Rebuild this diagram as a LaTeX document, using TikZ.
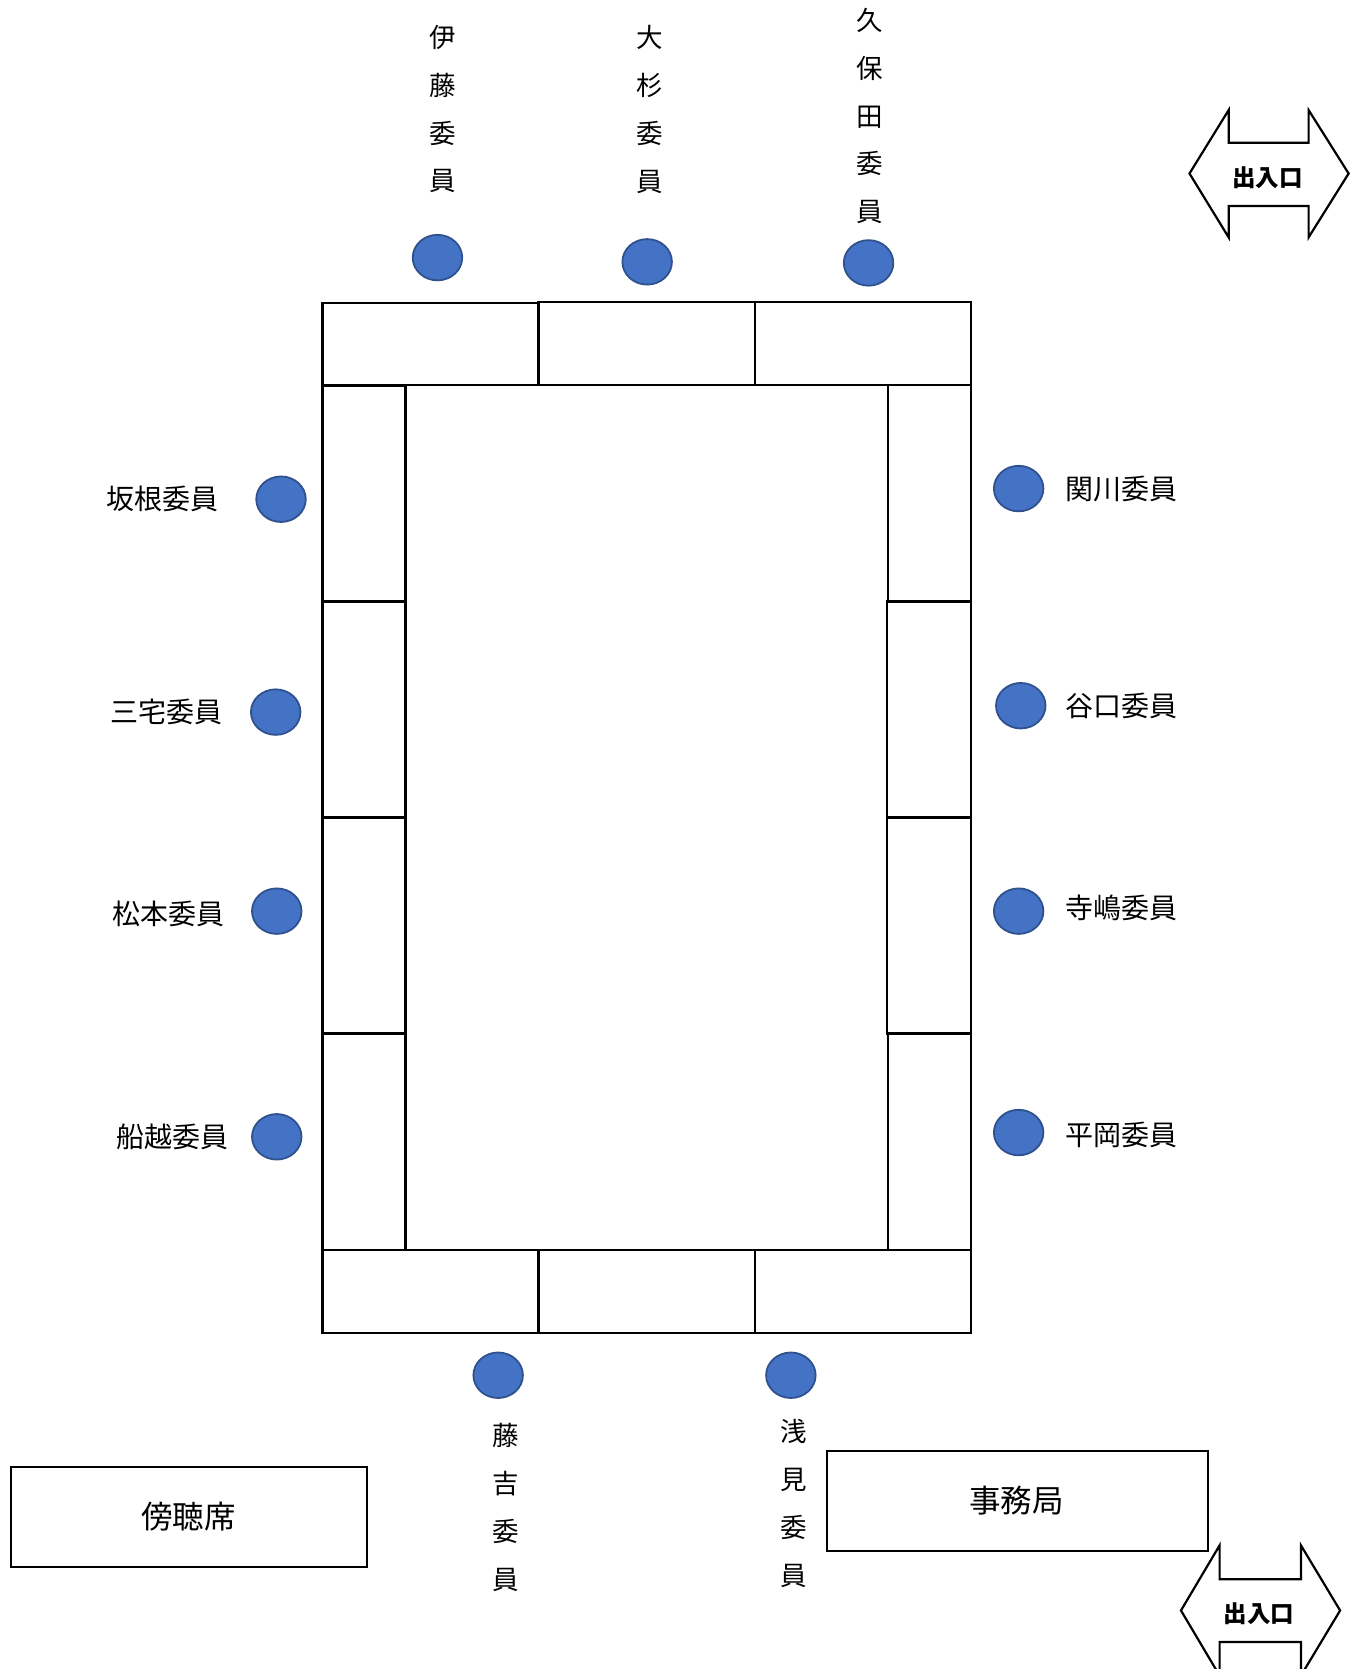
\documentclass[tikz,border=0pt]{standalone}
\usepackage{fontspec}
\setmainfont{Noto Sans CJK JP}
\usetikzlibrary{shapes.geometric}
\definecolor{seatfill}{HTML}{4472C4}
\definecolor{seatline}{HTML}{2F528F}
\tikzset{
  seat/.style={ellipse, fill=seatfill, draw=seatline, line width=1.8pt, minimum width=49.5pt, minimum height=45.5pt, inner sep=0pt},
  tablebox/.style={draw=black, line width=2.2pt},
  hlabel/.style={font=\fontsize{28}{32}\selectfont, inner sep=0pt},
  vlabel/.style={font=\fontsize{26.5}{47.9}\selectfont, align=center, inner sep=0pt},
  roombox/.style={draw=black, line width=2.2pt},
  roomlabel/.style={font=\fontsize{31.5}{34}\selectfont, inner sep=0pt},
  exitarrow/.style={draw=black, line width=2.2pt, fill=white, line join=miter},
  exitlabel/.style={font=\fontsize{23.5}{26}\selectfont\bfseries, inner sep=0pt}
}
\begin{document}
\begin{tikzpicture}[x=1.06421pt, y=-1.06421pt]
\useasboundingbox (0,0) rectangle (1277,1568);
\clip (0,0) rectangle (1277,1568);
% tables: top row
\draw[tablebox] (303,285) rectangle (506,362);
\draw[tablebox] (506,284) rectangle (709,362);
\draw[tablebox] (709,284) rectangle (912,362);
% left column
\draw[tablebox] (303,363) rectangle (381,565);
\draw[tablebox] (303,565) rectangle (381,768);
\draw[tablebox] (303,768) rectangle (381,971);
\draw[tablebox] (303,971) rectangle (381,1174);
% right column
\draw[tablebox] (834,362) rectangle (912,565);
\draw[tablebox] (833,565) rectangle (912,768);
\draw[tablebox] (833,768) rectangle (912,971);
\draw[tablebox] (834,971) rectangle (912,1174);
% bottom row
\draw[tablebox] (303,1174) rectangle (506,1252);
\draw[tablebox] (506,1174) rectangle (709,1252);
\draw[tablebox] (709,1174) rectangle (912,1252);

% seats
\node[seat] (sIto) at (411,242) {};
\node[seat] (sOsugi) at (608,246) {};
\node[seat] (sKubota) at (816,247) {};
\node[seat] (sSakane) at (264,469) {};
\node[seat] (sMiyake) at (259,669) {};
\node[seat] (sMatsumoto) at (260,856) {};
\node[seat] (sFunakoshi) at (260,1068) {};
\node[seat] (sSekikawa) at (957,459) {};
\node[seat] (sTaniguchi) at (959,663) {};
\node[seat] (sTerashima) at (957,856) {};
\node[seat] (sHiraoka) at (957,1064) {};
\node[seat] (sFujiyoshi) at (468,1292) {};
\node[seat] (sAsami) at (743,1292) {};

% vertical labels
\node[vlabel] (lIto) at (416,102.5) {伊\\藤\\委\\員};
\node[vlabel] (lOsugi) at (610,102.5) {大\\杉\\委\\員};
\node[vlabel] (lKubota) at (817,109) {久\\保\\田\\委\\員};
\node[vlabel] (lFujiyoshi) at (475,1416.5) {藤\\吉\\委\\員};
\node[vlabel] (lAsami) at (746,1412.5) {浅\\見\\委\\員};

% horizontal labels
\node[hlabel] (lSakane) at (153,469) {坂根委員};
\node[hlabel] (lMiyake) at (156,669) {三宅委員};
\node[hlabel] (lMatsumoto) at (158,859) {松本委員};
\node[hlabel] (lFunakoshi) at (162,1068) {船越委員};
\node[hlabel] (lSekikawa) at (1054,459) {関川委員};
\node[hlabel] (lTaniguchi) at (1054,663) {谷口委員};
\node[hlabel] (lTerashima) at (1054,853) {寺嶋委員};
\node[hlabel] (lHiraoka) at (1054,1066) {平岡委員};

% rooms
\draw[roombox] (10,1378) rectangle (345,1472);
\node[roomlabel] (gallery) at (177,1425) {傍聴席};
\draw[roombox] (777,1363) rectangle (1135,1457);
\node[roomlabel] (office) at (955,1410) {事務局};

% exits
\draw[exitarrow] (1117.5,163) -- (1154.3,103.4) -- (1154.3,134.1) -- (1229.4,134.1) -- (1229.4,103.4) -- (1267,163) -- (1229.4,223) -- (1229.4,193.6) -- (1154.3,193.6) -- (1154.3,223) -- cycle;
\node[exitlabel] (exitTop) at (1191,167) {出入口};
\draw[exitarrow] (1109.5,1513) -- (1145.8,1451.8) -- (1145.8,1483.7) -- (1222.2,1483.7) -- (1222.2,1451.8) -- (1259,1513) -- (1222.2,1574.2) -- (1222.2,1542.6) -- (1145.8,1542.6) -- (1145.8,1574.2) -- cycle;
\node[exitlabel] (exitBottom) at (1183,1516) {出入口};
\end{tikzpicture}
\end{document}
